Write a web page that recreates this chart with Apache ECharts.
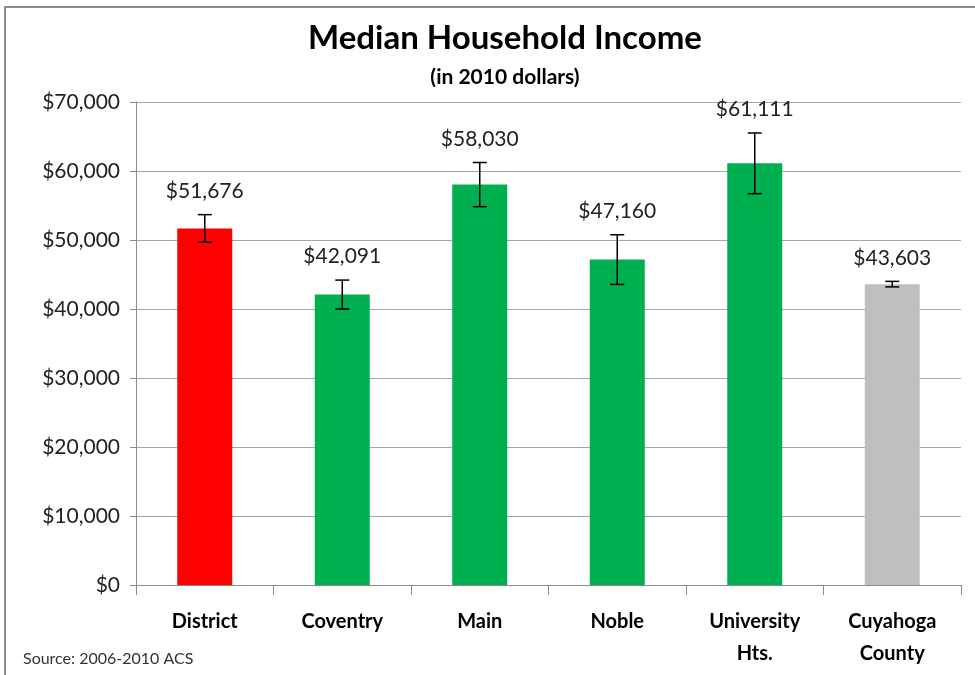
<!DOCTYPE html>
<html lang="en">
<head>
<meta charset="UTF-8">
<title>Median Household Income</title>
<script src="https://cdn.jsdelivr.net/npm/echarts@6/dist/echarts.min.js"></script>
</head>
<body style="margin:0;background:#fff;">
<div id="frame" style="position:absolute;left:4px;top:6px;width:975px;height:675px;border:2px solid #8c8c8c;box-sizing:border-box;"></div>
<div id="main" style="position:absolute;left:0;top:0;width:975px;height:675px;"></div>
<script type="text/javascript">
// 数据
var categories = ['District', 'Coventry', 'Main', 'Noble', 'University\nHts.', 'Cuyahoga\nCounty'];
var incomes = [51676, 42091, 58030, 47160, 61111, 43603];
var margins = [2000, 2100, 3200, 3600, 4400, 400];   // error bar +/-
var barColors = ['#ff0000', '#00b050', '#00b050', '#00b050', '#00b050', '#bfbfbf'];

var FONT = 'Lato, "Open Sans", sans-serif';

function money(v) {
    return '$' + v.toString().replace(/\B(?=(\d{3})+(?!\d))/g, ',');
}

var myChart = echarts.init(document.getElementById('main'));

var errData = incomes.map(function (v, i) {
    return [i, v - margins[i], v + margins[i], v];
});

var option = {
    animation: false,
    title: [{
        text: 'Median Household Income',
        left: 500, top: 17, textAlign: 'center',
        textStyle: { fontFamily: FONT, fontSize: 33, fontWeight: 'bold', color: '#000' }
    }, {
        text: '(in 2010 dollars)',
        left: 500, top: 62, textAlign: 'center',
        textStyle: { fontFamily: FONT, fontSize: 21, fontWeight: 'bold', color: '#000' }
    }, {
        text: 'Source: 2006-2010 ACS',
        left: 18, top: 646,
        textStyle: { fontFamily: FONT, fontSize: 16, fontWeight: 'normal', color: '#333' }
    }],
    grid: { left: 136, right: 14, top: 102, bottom: 90 },
    xAxis: {
        type: 'category',
        data: categories,
        axisLine: { lineStyle: { color: '#8c8c8c', width: 1 } },
        axisTick: { show: true, length: 10, lineStyle: { color: '#8c8c8c' } },
        axisLabel: {
            fontFamily: FONT, fontSize: 20, fontWeight: 'bold', color: '#000',
            margin: 21, lineHeight: 32, interval: 0
        }
    },
    yAxis: {
        type: 'value',
        min: 0, max: 70000, interval: 10000,
        axisLine: { show: true, lineStyle: { color: '#8c8c8c' } },
        axisTick: { show: true, length: 6, lineStyle: { color: '#8c8c8c' } },
        splitLine: { lineStyle: { color: '#a6a6a6', width: 1 } },
        axisLabel: {
            fontFamily: FONT, fontSize: 21, color: '#222', margin: 16,
            formatter: function (v) { return money(v); }
        }
    },
    series: [{
        type: 'bar',
        data: incomes.map(function (v, i) {
            return { value: v, itemStyle: { color: barColors[i] } };
        }),
        barWidth: 55
    }, {
        type: 'custom',
        data: errData,
        z: 5,
        renderItem: function (params, api) {
            var x = api.coord([api.value(0), 0])[0];
            var lo = api.coord([api.value(0), api.value(1)])[1];
            var hi = api.coord([api.value(0), api.value(2)])[1];
            var cap = 7;
            var st = { stroke: '#000', lineWidth: 1.5 };
            return {
                type: 'group',
                children: [
                    { type: 'line', shape: { x1: x, y1: lo, x2: x, y2: hi }, style: st },
                    { type: 'line', shape: { x1: x - cap, y1: lo, x2: x + cap, y2: lo }, style: st },
                    { type: 'line', shape: { x1: x - cap, y1: hi, x2: x + cap, y2: hi }, style: st },
                    {
                        type: 'text',
                        style: {
                            text: money(api.value(3)),
                            x: x, y: hi - 13,
                            align: 'center', verticalAlign: 'bottom',
                            font: '21px ' + FONT, fill: '#222'
                        }
                    }
                ]
            };
        }
    }]
};

myChart.setOption(option);
</script>
</body>
</html>
